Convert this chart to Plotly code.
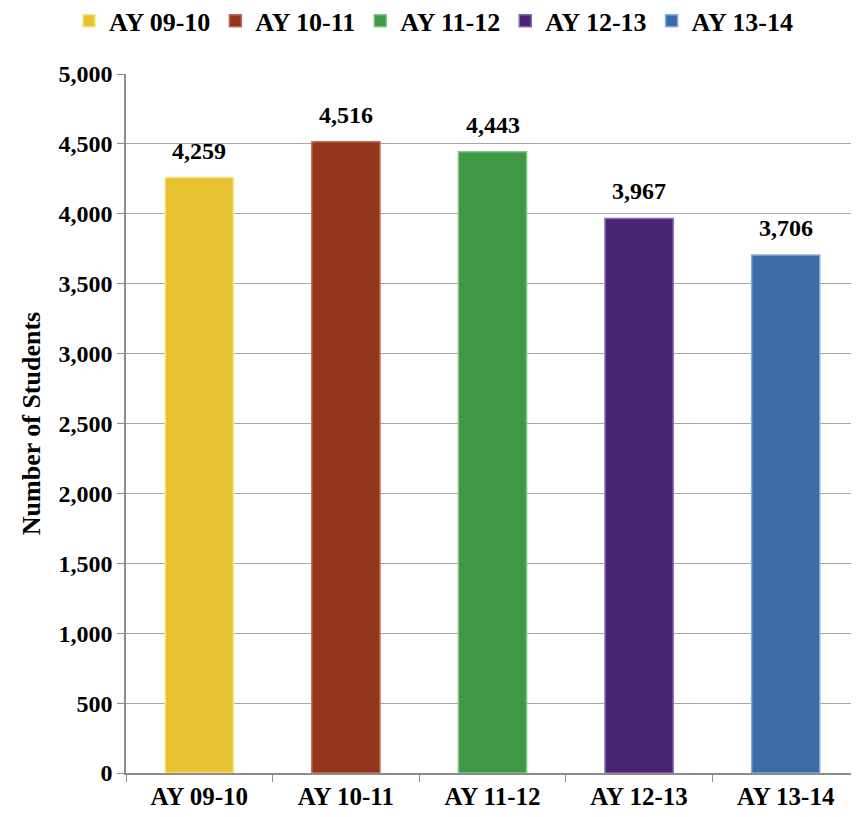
import plotly.graph_objects as go

categories = ["AY 09-10", "AY 10-11", "AY 11-12", "AY 12-13", "AY 13-14"]
students = [4259, 4516, 4443, 3967, 3706]
colors = ["#E6C130", "#94361C", "#3E9846", "#4B2474", "#3B6CA7"]
edge_colors = ["#F7E38A", "#C46A50", "#7CC884", "#8A66B8", "#86AEDC"]
y_ticks = [0, 500, 1000, 1500, 2000, 2500, 3000, 3500, 4000, 4500, 5000]

FONT = "Liberation Serif"
FS = 24

fig = go.Figure()
for cat, val, col, ec in zip(categories, students, colors, edge_colors):
    fig.add_trace(go.Bar(
        x=[cat], y=[val], name=cat,
        marker=dict(color=col, line=dict(color=ec, width=1.5)),
        width=0.465,
    ))
    fig.add_annotation(
        x=cat, y=val, text=f"{val:,}", showarrow=False,
        yanchor="bottom", yshift=12,
        font=dict(family=FONT, size=FS, color="black", weight="bold"),
    )

fig.update_layout(
    width=851, height=809,
    margin=dict(l=118, r=0, t=66, b=44),
    paper_bgcolor="white", plot_bgcolor="white",
    barmode="overlay",
    showlegend=True,
    legend=dict(orientation="h", xref="container", yref="container",
                x=0.5, xanchor="center", y=0.984, yanchor="middle",
                font=dict(family=FONT, size=26, color="black", weight="bold"),
                itemwidth=30, traceorder="normal"),
    font=dict(family=FONT, color="black"),
)
fig.update_xaxes(
    categoryorder="array", categoryarray=categories,
    tickson="boundaries", ticks="outside", ticklen=7, tickcolor="#8C8C8C",
    showline=True, linecolor="#8C8C8C", linewidth=1.5,
    tickfont=dict(family=FONT, size=25, color="black", weight="bold"),
    showgrid=False, automargin=False,
)
fig.update_yaxes(
    range=[0, 5000], tickvals=y_ticks,
    ticktext=[f"{v:,}" for v in y_ticks],
    ticks="outside", ticklen=7, tickcolor="#8C8C8C",
    showline=True, linecolor="#8C8C8C", linewidth=1.5,
    showgrid=True, gridcolor="#A6A6A6", gridwidth=1.2,
    zeroline=False, automargin=False,
    tickfont=dict(family=FONT, size=FS, color="black", weight="bold"),
    title=dict(text="Number of Students", standoff=10,
               font=dict(family=FONT, size=26, color="black", weight="bold")),
)

fig.write_html("out.html")
